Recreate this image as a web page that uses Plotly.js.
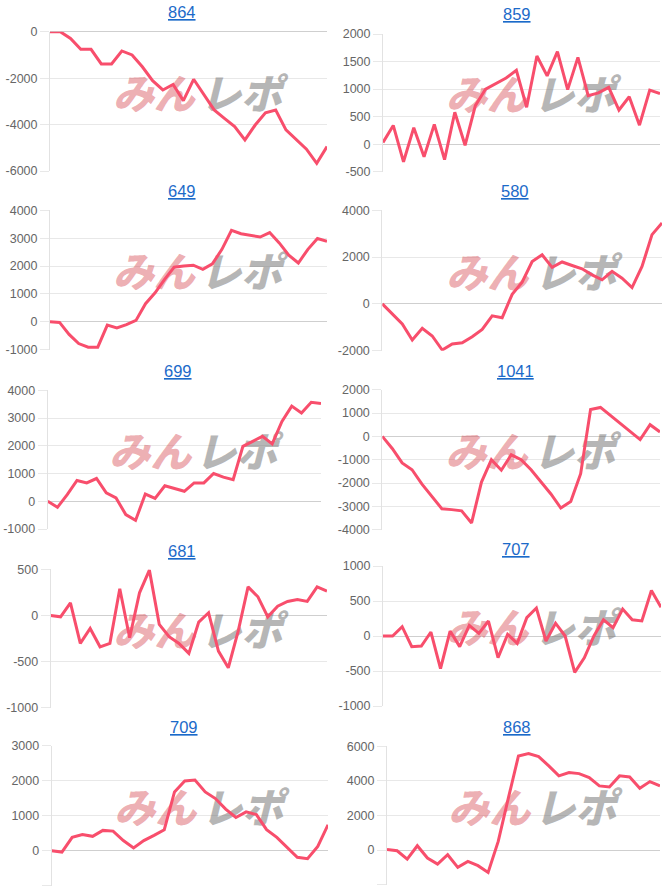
<!DOCTYPE html>
<html>
<head>
<meta charset="utf-8">
<script src="https://cdn.plot.ly/plotly-3.0.1.min.js"></script>
<style>
html,body{margin:0;padding:0;background:#fff;}
#chart{width:666px;height:890px;}
</style>
</head>
<body>
<div id="chart"></div>
<script>
// ---- data ----
const panelNames = ['864', '859', '649', '580', '699', '1041', '681', '707', '709', '868'];

const v864 = [0, 0, -290, -760, -760, -1390, -1390, -830, -1000, -1510, -2110, -2510, -2270, -2970, -2050, -2700, -3370, -3730, -4090, -4660, -4020, -3490, -3370, -4230, -4660, -5060, -5670, -4950];
const v859 = [30, 340, -320, 300, -230, 360, -280, 580, -20, 700, 1000, 1100, 1200, 1340, 670, 1600, 1240, 1680, 990, 1575, 880, 930, 1030, 620, 860, 345, 980, 920];
const v649 = [0, -20, -450, -780, -910, -910, -120, -220, -100, 50, 650, 1040, 1520, 1960, 2000, 2030, 1880, 2080, 2600, 3280, 3160, 3110, 3040, 3200, 2830, 2390, 2110, 2600, 2990, 2890];
const v580 = [0, -440, -860, -1540, -1040, -1370, -1970, -1710, -1660, -1400, -1090, -510, -590, 410, 930, 1810, 2100, 1560, 1790, 1640, 1500, 1240, 1030, 1390, 1100, 700, 1600, 2960, 3460];
const v699 = [0, -220, 240, 750, 660, 820, 300, 120, -480, -690, 260, 100, 560, 470, 360, 660, 660, 1000, 870, 780, 1980, 2160, 2340, 2070, 2880, 3430, 3180, 3570, 3520];
const v1041 = [0, -520, -1140, -1430, -2050, -2600, -3100, -3140, -3190, -3710, -1960, -1000, -1450, -790, -1000, -1430, -1940, -2470, -3070, -2790, -1600, 1150, 1240, 890, 540, 190, -140, 500, 190];
const v681 = [0, -15, 137, -303, -141, -340, -303, 289, -242, 245, 491, -97, -231, -303, -411, -72, 29, -386, -567, -170, 310, 202, -15, 101, 152, 173, 152, 310, 264];
const v707 = [0, 0, 133, -152, -143, 57, -467, 71, -152, 152, 38, 214, -310, 24, -105, 262, 400, -72, 183, 0, -519, -312, 0, 231, 120, 385, 231, 216, 649, 409];
const v709 = [0, -40, 380, 460, 410, 580, 560, 290, 80, 290, 440, 600, 1680, 1990, 2020, 1680, 1490, 1190, 950, 1110, 1030, 600, 380, 80, -190, -230, 120, 740];
const v868 = [30, -40, -520, 250, -460, -810, -270, -1000, -650, -900, -1290, 500, 3000, 5440, 5580, 5400, 4870, 4290, 4480, 4420, 4190, 3710, 3650, 4290, 4230, 3580, 3960, 3710];

const seriesValues = [v864, v859, v649, v580, v699, v1041, v681, v707, v709, v868];

// y axis tick ranges and steps
const yMin = [-6000, -500, -1000, -2000, -1000, -4000, -1000, -1000, -1000, -2000];
const yMax = [0, 2000, 4000, 4000, 4000, 2000, 500, 1000, 3000, 6000];
const yStep = [2000, 500, 1000, 2000, 1000, 1000, 500, 500, 1000, 2000];

const watermarkText = ['みん', 'レポ'];

// ---- layout geometry (pixels) ----
const W = 666, H = 890;
const plotLeft  = [50, 383, 50, 382.3, 47.7, 382.3, 50.7, 383, 51.7, 387];
const plotRight = [327, 660, 327, 662, 321, 660, 327, 661, 328, 660];
const plotTop   = [31.7, 34, 210.3, 210.3, 390.3, 389.7, 569.3, 566, 745.7, 746.3];
const plotBot   = [171, 171.7, 349.7, 350.7, 529, 529.7, 707.7, 706, 885.7, 884.7];
const titleX    = [182, 517, 182, 515, 178, 515, 182, 516, 184, 517];
const titleY    = [12.5, 14.5, 191, 191, 371, 371, 551, 549, 727, 727];

const lineColor = 'rgb(248,78,108)';
const fontFam = '"Liberation Sans", Arial, sans-serif';

const traces = [];
const layout = {
  width: W, height: H,
  margin: {l: 0, r: 0, t: 0, b: 0},
  paper_bgcolor: '#fff',
  plot_bgcolor: 'rgba(0,0,0,0)',
  showlegend: false,
  hovermode: false,
  annotations: []
};

for (let i = 0; i < panelNames.length; i++) {
  const vals = seriesValues[i];
  const n = vals.length;
  const xs = vals.map((_, k) => k + 1);
  const sfx = i === 0 ? '' : String(i + 1);
  const xa = 'x' + sfx, ya = 'y' + sfx;
  const lo = yMin[i], hi = yMax[i], st = yStep[i];

  // watermark (text, drawn under the line)
  traces.push({
    type: 'scatter', mode: 'text',
    x: [1 + 0.375 * (n - 1), 1 + 0.69 * (n - 1)],
    y: [lo + 0.52 * (hi - lo), lo + 0.52 * (hi - lo)],
    text: watermarkText,
    textposition: 'middle center',
    textfont: {
      family: '"Noto Sans CJK JP", sans-serif',
      size: 41, weight: 900, style: 'italic',
      color: ['rgba(215,75,85,0.45)', 'rgba(110,110,110,0.5)']
    },
    xaxis: xa, yaxis: ya, hoverinfo: 'skip', cliponaxis: false
  });

  traces.push({
    type: 'scatter', mode: 'lines',
    x: xs, y: vals,
    line: {color: lineColor, width: 3},
    xaxis: xa, yaxis: ya, cliponaxis: false, hoverinfo: 'skip'
  });

  const tv = [];
  for (let t = lo; t <= hi + 1e-9; t += st) tv.push(t);

  layout['xaxis' + sfx] = {
    domain: [plotLeft[i] / W, plotRight[i] / W],
    range: [1, n],
    anchor: ya,
    showgrid: false, zeroline: false, showline: false,
    showticklabels: false, ticks: '', fixedrange: true
  };
  layout['yaxis' + sfx] = {
    domain: [1 - plotBot[i] / H, 1 - plotTop[i] / H],
    range: [lo, hi],
    anchor: xa,
    tickvals: tv,
    ticktext: tv.map(v => String(v)),
    tickfont: {family: fontFam, size: 12.5, color: '#666'},
    showgrid: true, gridcolor: '#e8e8e8', gridwidth: 1,
    zeroline: true, zerolinecolor: '#cfcfcf', zerolinewidth: 1,
    showline: true, linecolor: '#e2e2e2', linewidth: 1,
    ticks: 'outside', ticklen: 9, tickcolor: '#e8e8e8',
    fixedrange: true
  };

  layout.annotations.push({
    xref: 'paper', yref: 'paper',
    x: titleX[i] / W, y: 1 - titleY[i] / H,
    xanchor: 'center', yanchor: 'middle',
    text: '<u>' + panelNames[i] + '</u>',
    showarrow: false,
    font: {family: fontFam, size: 16.5, color: '#1b6ac9'}
  });
}

Plotly.newPlot('chart', traces, layout, {displayModeBar: false, staticPlot: true});
</script>
</body>
</html>
